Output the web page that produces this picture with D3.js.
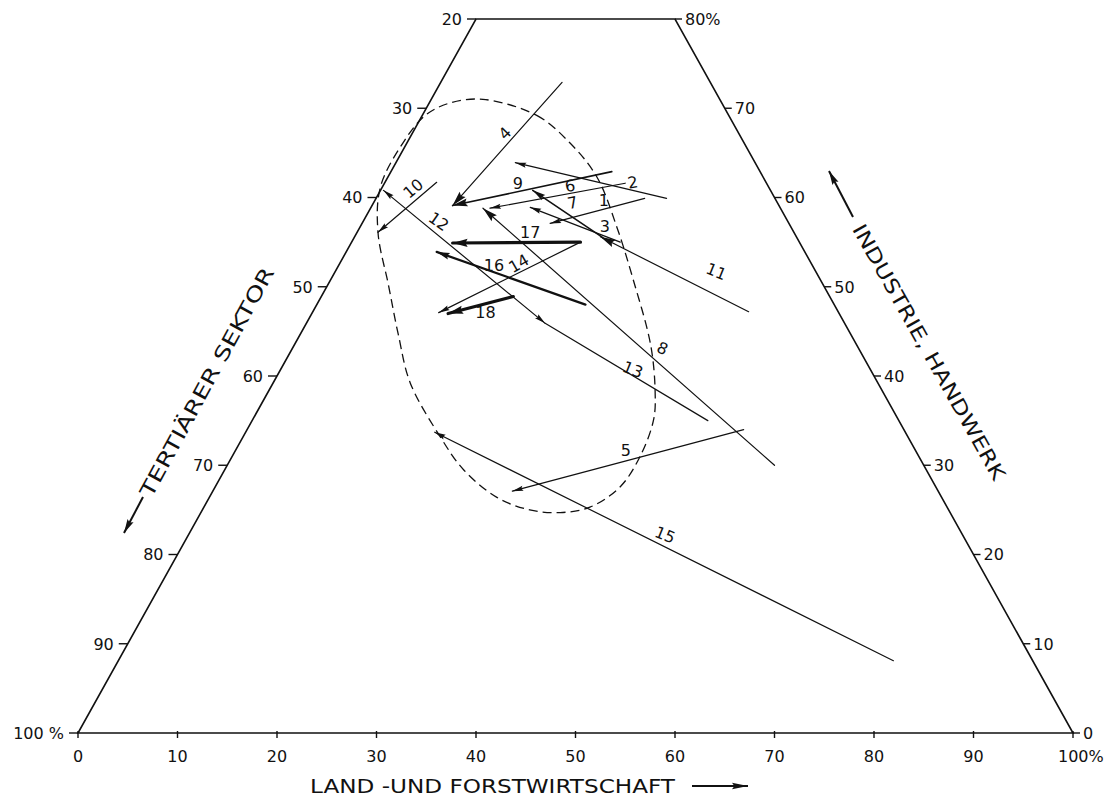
<!DOCTYPE html>
<html><head><meta charset="utf-8">
<script src="https://cdn.jsdelivr.net/npm/d3@7"></script>
<style>
html,body{margin:0;padding:0;background:#fff;}
svg{display:block;}
text{font-family:"DejaVu Sans","Liberation Sans",sans-serif;fill:#111;}
</style></head>
<body>
<svg id="c" width="1110" height="805"></svg>
<script>
// ---- data (percent shares: Land- und Forstwirtschaft = land, Industrie/Handwerk = ind) ----
const regions   = ["1","2","3","4","5","6","7","8","9","10","11","12","13","14","15","16","17","18"];
const startLand = [27.0, 29.2, 27.0, 12.2, 49.9, 24.2, 25.0, 55.0, 22.2, 5.2, 43.8, 0.3, 45.8, 23.0, 77.9, 27.0, 23.0, 19.3];
const startInd  = [59.9, 59.9, 55.0, 72.9, 34.0, 61.6, 55.5, 30.0, 62.9, 61.7, 47.2, 60.8, 35.0, 55.0, 8.1, 48.0, 55.0, 48.9];
const endLand   = [18.9, 12.0, 16.0, 8.1, 30.1, 12.0, 15.3, 11.3, 8.1, 2.1, 24.7, 24.0, 24.0, 12.7, 19.0, 9.1, 10.2, 13.7];
const endInd    = [57.1, 63.9, 58.9, 59.1, 27.1, 58.8, 60.8, 58.8, 59.1, 56.1, 55.6, 45.9, 45.9, 47.1, 33.7, 53.9, 54.9, 47.0];
const heads     = ["end","end","end","end","end","end","end","end","end","end","end","both","none","end","end","end","end","end"];
const weights   = ["thin","thin","thin","thin","thin","thin","medium","thin","medium","thin","thin","thin","thin","thin","thin","bold","heavy","heavy"];
const labelLand = [23.0, 24.9, 24.6, 9.3, 39.2, 18.8, 20.0, 37.2, 13.4, 3.2, 38.3, 7.6, 35.4, 18.0, 47.9, 15.6, 17.4, 17.4];
const labelInd  = [59.7, 61.7, 56.7, 67.2, 31.7, 61.3, 59.4, 43.1, 61.6, 61.0, 51.7, 57.3, 40.7, 52.6, 22.2, 52.4, 56.1, 47.1];
const labelRot  = [0, -10, 0, -45, 0, -10, -12, 25, 0, -40, 22, 35, 22, -30, 22, 0, 0, 0];

// dashed envelope
const outlineLand = [5.2, 11.5, 16.4, 21.0, 25.8, 30.4, 35.8, 38.8, 40.3, 41.0, 40.7, 38.8, 36.1, 32.9, 28.9, 24.0, 19.8, 13.8, 9.9, 6.1, 2.1, -0.2, -0.4, 0.3, 2.1];
const outlineInd  = [71.0, 69.2, 66.1, 62.3, 56.7, 50.8, 43.5, 38.4, 35.1, 30.9, 27.6, 25.3, 24.7, 25.0, 26.4, 29.5, 33.2, 39.2, 44.6, 50.2, 56.1, 61.2, 66.1, 69.2, 70.6];

// axes
const landTicks = [0,10,20,30,40,50,60,70,80,90,100];
const landTickLabels = ["0","10","20","30","40","50","60","70","80","90","100%"];
const tertTicks = [20,30,40,50,60,70,80,90,100];
const tertTickLabels = ["20","30","40","50","60","70","80","90","100 %"];
const indTicks = [0,10,20,30,40,50,60,70,80];
const indTickLabels = ["0","10","20","30","40","50","60","70","80%"];
const maxInd = 80;
const titles = {land:"LAND -UND FORSTWIRTSCHAFT", ind:"INDUSTRIE, HANDWERK", tert:"TERTIÄRER SEKTOR"};

// ---- scales ----
const xS = d3.scaleLinear().domain([0,100]).range([78,1073]);
const yS = d3.scaleLinear().domain([0,100]).range([733, 733-892.5]);
const px = (L,I) => [xS(L + I/2), yS(I)];

const svg = d3.select("#c");
const ink = "#111";

// triangle (truncated)
const tri = [[0,0],[100,0],[100-maxInd,maxInd],[0,maxInd]].map(d=>px(d[0],d[1]));
svg.append("path").attr("d", d3.line()(tri)+"Z")
  .attr("fill","none").attr("stroke",ink).attr("stroke-width",1.6).attr("stroke-linejoin","miter");

const tickFont = 16;
// bottom ticks (land)
landTicks.forEach((t,i)=>{
  const [x,y] = px(t,0);
  svg.append("line").attr("x1",x).attr("x2",x).attr("y1",y-2).attr("y2",y+5).attr("stroke",ink).attr("stroke-width",1.4);
  const lab = landTickLabels[i];
  const tx = svg.append("text").attr("x",x).attr("y",y+29).attr("font-size",tickFont).text(lab);
  if(lab.endsWith("%")) tx.attr("text-anchor","start").attr("x",x-15);
  else tx.attr("text-anchor","middle");
});
// left ticks (tertiary): point with land=0, ind=100-t
tertTicks.forEach((t,i)=>{
  const [x,y] = px(0,100-t);
  svg.append("line").attr("x1",x-9).attr("x2",x).attr("y1",y).attr("y2",y).attr("stroke",ink).attr("stroke-width",1.4);
  svg.append("text").attr("x",x-14).attr("y",y).attr("dy","0.36em").attr("text-anchor","end")
    .attr("font-size",tickFont).text(tertTickLabels[i]);
});
// right ticks (industry): point with land=100-I
indTicks.forEach((t,i)=>{
  const [x,y] = px(100-t,t);
  svg.append("line").attr("x1",x).attr("x2",x+7).attr("y1",y).attr("y2",y).attr("stroke",ink).attr("stroke-width",1.4);
  svg.append("text").attr("x",x+10).attr("y",y).attr("dy","0.36em").attr("text-anchor","start")
    .attr("font-size",tickFont).text(indTickLabels[i]);
});

// dashed envelope
const env = outlineLand.map((L,i)=>px(L,outlineInd[i]));
svg.append("path").attr("d", d3.line().curve(d3.curveCatmullRomClosed.alpha(0.5))(env))
  .attr("fill","none").attr("stroke",ink).attr("stroke-width",1.3).attr("stroke-dasharray","9,5");

// arrows
const wStyle = {thin:{sw:1.2,len:11,hw:2.6}, medium:{sw:1.6,len:13,hw:3.2}, bold:{sw:2.3,len:13,hw:3.4}, heavy:{sw:3.2,len:15,hw:4.2}};
const bigHead = {"4":1,"9":1,"11":1,"8":1};
function head(tip, from, len, hw){
  const dx = tip[0]-from[0], dy = tip[1]-from[1];
  const d = Math.hypot(dx,dy), ux = dx/d, uy = dy/d;
  const bx = tip[0]-ux*len, by = tip[1]-uy*len;
  return [[tip[0],tip[1]],[bx-uy*hw,by+ux*hw],[bx+ux*len*0.15,by+uy*len*0.15],[bx+uy*hw,by-ux*hw]];
}
const g = svg.append("g");
regions.forEach((r,i)=>{
  const a = px(startLand[i],startInd[i]);
  const b = px(endLand[i],endInd[i]);
  const st = wStyle[weights[i]];
  g.append("line").attr("x1",a[0]).attr("y1",a[1]).attr("x2",b[0]).attr("y2",b[1])
    .attr("stroke",ink).attr("stroke-width",st.sw).attr("stroke-linecap","round");
  const len = bigHead[r] ? 15 : st.len, hw = bigHead[r] ? 4 : st.hw;
  if(heads[i]==="end"||heads[i]==="both")
    g.append("path").attr("d", d3.line()(head(b,a,len,hw))+"Z").attr("fill",ink);
  if(heads[i]==="both")
    g.append("path").attr("d", d3.line()(head(a,b,len,hw))+"Z").attr("fill",ink);
  const [lx,ly] = px(labelLand[i],labelInd[i]);
  g.append("text").attr("transform",`translate(${lx},${ly}) rotate(${labelRot[i]})`)
    .attr("text-anchor","middle").attr("dominant-baseline","central").attr("font-size",16).text(r);
});

// axis titles
function arrowLine(x1,y1,x2,y2,sw,len,hw){
  svg.append("line").attr("x1",x1).attr("y1",y1).attr("x2",x2).attr("y2",y2).attr("stroke",ink).attr("stroke-width",sw);
  svg.append("path").attr("d", d3.line()(head([x2,y2],[x1,y1],len,hw))+"Z").attr("fill",ink);
}
svg.append("text").attr("x",310).attr("y",786).attr("dominant-baseline","central")
  .attr("font-size",20).attr("textLength",365).attr("lengthAdjust","spacingAndGlyphs").text(titles.land);
arrowLine(692,786,748,786,1.8,16,3.2);

svg.append("text").attr("transform","translate(929,352) rotate(60.6)")
  .attr("text-anchor","middle").attr("dominant-baseline","central")
  .attr("font-size",20).attr("textLength",290).attr("lengthAdjust","spacingAndGlyphs").text(titles.ind);
arrowLine(853,217,829,171,2,14,3.4);

svg.append("text").attr("transform","translate(207,382) rotate(-61.5)")
  .attr("text-anchor","middle").attr("dominant-baseline","central")
  .attr("font-size",20).attr("textLength",258).attr("lengthAdjust","spacingAndGlyphs").text(titles.tert);
arrowLine(143,497,124,533,2,14,3.4);
</script>
</body></html>
